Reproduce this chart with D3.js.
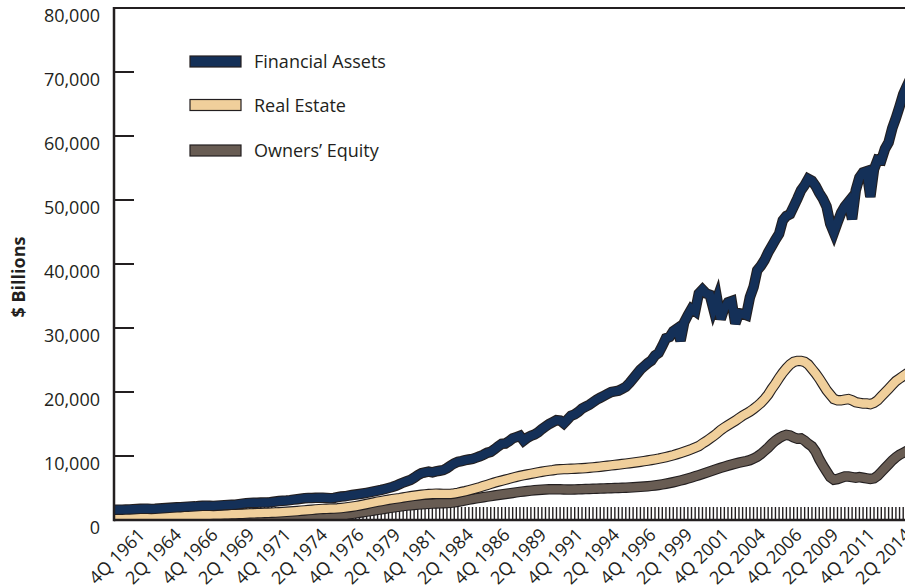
<!DOCTYPE html>
<html>
<head>
<meta charset="utf-8">
<script src="https://cdn.jsdelivr.net/npm/d3@7"></script>
<style>
  body { margin: 0; background: #fff; }
  text { font-family: "Open Sans", "DejaVu Sans", sans-serif; fill: #231f20; }
</style>
</head>
<body>
<div id="chart"></div>
<script>
// quarterly categories, 4Q 1959 .. 2Q 2014
var quarters = [];
for (var yr = 1959; yr <= 2014; yr++) {
  for (var q = 1; q <= 4; q++) {
    if (yr == 1959 && q < 4) continue;
    if (yr == 2014 && q > 2) continue;
    quarters.push(q + "Q " + yr);
  }
}

var xTickLabels = ["4Q 1961","2Q 1964","4Q 1966","2Q 1969","4Q 1971","2Q 1974","4Q 1976",
  "2Q 1979","4Q 1981","2Q 1984","4Q 1986","2Q 1989","4Q 1991","2Q 1994","4Q 1996",
  "2Q 1999","4Q 2001","2Q 2004","4Q 2006","2Q 2009","4Q 2011","2Q 2014"];

var yTicks = [0, 10000, 20000, 30000, 40000, 50000, 60000, 70000, 80000];

// $ billions, one value per quarter
var financialAssets = [
  1600,
  1610, 1620, 1630, 1650,   1680, 1710, 1740, 1770,   1760, 1730, 1750, 1790,   // 60-62
  1830, 1870, 1900, 1940,   1980, 2010, 2050, 2080,   2110, 2130, 2170, 2210,   // 63-65
  2230, 2220, 2200, 2240,   2280, 2320, 2350, 2370,   2400, 2470, 2540, 2620,   // 66-68
  2660, 2700, 2690, 2720,   2740, 2720, 2810, 2880,   2960, 3010, 3040, 3100,   // 69-71
  3180, 3250, 3320, 3400,   3450, 3430, 3460, 3480,   3480, 3450, 3400, 3450,   // 72-74
  3560, 3660, 3700, 3800,   3900, 3980, 4060, 4150,   4250, 4360, 4470, 4580,   // 75-77
  4700, 4850, 5000, 5150,   5350, 5600, 5850, 6050,   6250, 6600, 7000, 7300,   // 78-80
  7450, 7550, 7450, 7600,   7700, 7800, 8100, 8500,   8850, 9100, 9200, 9350,   // 81-83
  9450, 9550, 9750, 9950,   10200, 10500, 10650, 11050,   11500, 11900, 11950, 12300, // 84-86
  12750, 12950, 13150, 12400,   12850, 13150, 13350, 13700,   14200, 14600, 15000, 15300, // 87-89
  15600, 15550, 15100, 15700,   16300, 16500, 16900, 17400,   17700, 18000, 18400, 18800, // 90-92
  19100, 19400, 19700, 20000,   20100, 20200, 20500, 20800,   21400, 22100, 22800, 23500, // 93-95
  24000, 24500, 24900, 25700,   26100, 27200, 28400, 28600,   29500, 29900, 28000, 30900, // 96-98
  32000, 33000, 32600, 35400,   36000, 35400, 35200, 33000,   34600, 31400, 33100, 34000, // 99-01
  34200, 30700, 32300, 32200,   32000, 34800, 36400, 39000,   39700, 40600, 41800, 42800, // 02-04
  43800, 44700, 46800, 47500,   47800, 49000, 50200, 51500,   52300, 53300, 53000, 52200, // 05-07
  51100, 50200, 49000, 46300,   44900, 46500, 48000, 49000,   49700, 47000, 51500, 53500, // 08-10
  54300, 54500, 50500, 54800,   56300, 56200, 58000, 59000,   61200, 62800, 64600, 66500, // 11-13
  67800, 69000
];

var realEstate = [
  560,
  570, 580, 590, 600,   610, 620, 630, 640,   650, 660, 670, 680,
  690, 700, 710, 720,   730, 740, 750, 760,   770, 780, 790, 800,
  810, 820, 830, 840,   850, 870, 890, 910,   930, 950, 970, 1000,
  1020, 1040, 1060, 1080,   1100, 1120, 1140, 1170,   1200, 1240, 1280, 1320,
  1360, 1400, 1450, 1500,   1550, 1600, 1650, 1700,   1730, 1750, 1770, 1790,
  1820, 1870, 1930, 2000,   2080, 2170, 2270, 2380,   2500, 2620, 2740, 2860,
  2960, 3060, 3160, 3260,   3340, 3420, 3520, 3620,   3700, 3780, 3860, 3940,
  4000, 4050, 4080, 4100,   4090, 4080, 4070, 4080,   4150, 4250, 4380, 4500,
  4650, 4800, 4960, 5120,   5300, 5480, 5660, 5840,   6000, 6150, 6300, 6450,
  6600, 6750, 6880, 7000,   7110, 7220, 7330, 7440,   7540, 7630, 7710, 7780,
  7880, 7920, 7950, 7970,   7990, 8020, 8050, 8080,   8120, 8170, 8220, 8270,
  8330, 8400, 8470, 8540,   8600, 8670, 8740, 8810,   8880, 8950, 9030, 9110,
  9200, 9290, 9380, 9480,   9580, 9700, 9830, 9970,   10120, 10290, 10470, 10660,
  10860, 11070, 11300, 11540,   11950, 12300, 12700, 13100,   13550, 14050, 14450, 14800,
  15150, 15500, 15900, 16300,   16600, 16950, 17350, 17800,   18300, 18900, 19600, 20500,
  21300, 22200, 23000, 23700,   24300, 24700, 24850, 24850,   24700, 24300, 23600, 22900,
  22100, 21200, 20300, 19600,   18900, 18700, 18700, 18800,   18900, 18700, 18400, 18300,
  18200, 18200, 18100, 18300,   18700, 19300, 19900, 20500,   21100, 21700, 22100, 22500,
  22900, 23200
];

var ownersEquity = [
  280,
  285, 290, 295, 300,   305, 310, 315, 320,   325, 330, 335, 340,
  345, 350, 355, 360,   365, 370, 375, 380,   385, 390, 395, 400,
  405, 410, 415, 420,   425, 430, 435, 440,   445, 450, 455, 460,
  465, 470, 475, 480,   485, 490, 495, 500,   505, 515, 525, 535,
  545, 555, 565, 575,   585, 595, 605, 615,   625, 635, 645, 660,
  680, 720, 780, 860,   950, 1040, 1130, 1220,   1310, 1400, 1490, 1580,
  1670, 1760, 1850, 1940,   2020, 2100, 2170, 2240,   2300, 2350, 2400, 2450,
  2490, 2530, 2560, 2590,   2610, 2630, 2650, 2680,   2750, 2850, 2960, 3080,
  3180, 3280, 3380, 3470,   3560, 3650, 3740, 3830,   3910, 3990, 4070, 4150,
  4230, 4310, 4390, 4460,   4530, 4590, 4650, 4700,   4740, 4770, 4790, 4800,
  4800, 4790, 4770, 4760,   4760, 4770, 4790, 4810,   4830, 4850, 4870, 4890,
  4910, 4930, 4950, 4970,   4990, 5010, 5030, 5050,   5080, 5110, 5140, 5180,
  5220, 5270, 5330, 5400,   5480, 5570, 5670, 5780,   5900, 6030, 6170, 6320,
  6480, 6650, 6830, 7010,   7200, 7390, 7580, 7770,   7960, 8150, 8330, 8500,
  8660, 8810, 8950, 9080,   9200, 9350, 9600, 9900,   10300, 10800, 11300, 11900,
  12400, 12800, 13100, 13300,   13200, 12900, 12700, 12750,   12400, 11900, 11500, 10700,
  9500, 8500, 7600, 6700,   6300, 6400, 6600, 6800,   6800, 6700, 6600, 6700,
  6600, 6500, 6400, 6500,   6900, 7500, 8100, 8700,   9300, 9800, 10200, 10500,
  10800, 11100
];

var seriesNames = ["Financial Assets", "Real Estate", "Owners\u2019 Equity"];
var seriesColors = ["#143058", "#f0cf9b", "#685c53"];

var width = 905, height = 588,
    plotLeft = 114, plotTop = 8, plotBottom = 520, plotRight = 905;
var ink = "#231f20";

var svg = d3.select("#chart").append("svg")
    .attr("width", width)
    .attr("height", height);

svg.append("rect").attr("width", width).attr("height", height).attr("fill", "white");

var x = d3.scalePoint()
    .domain(quarters)
    .range([114.8, 114.8 + (quarters.length - 1) * 3.65]);

var y = d3.scaleLinear()
    .domain([0, 80000])
    .range([plotBottom, plotTop]);

svg.append("clipPath").attr("id", "plot")
  .append("rect")
    .attr("x", plotLeft).attr("y", plotTop)
    .attr("width", plotRight - plotLeft + 20).attr("height", plotBottom - plotTop);

// quarter tick marks (inside, upward)
svg.append("g").selectAll("line")
  .data(quarters)
  .enter().append("line")
    .attr("x1", function(d){ return x(d); })
    .attr("x2", function(d){ return x(d); })
    .attr("y1", plotBottom)
    .attr("y2", plotBottom - 13)
    .attr("stroke", ink)
    .attr("stroke-width", 1.4);

// lines: owners equity underneath, financial assets on top
var lines = svg.append("g").attr("clip-path", "url(#plot)");
var line = d3.line()
    .x(function(d, i){ return x(quarters[i]); })
    .y(function(d){ return y(d); });

[ownersEquity, realEstate, financialAssets].forEach(function(vals, j){
  var c = seriesColors[2 - j];
  lines.append("path")
    .attr("d", line(vals))
    .attr("fill", "none")
    .attr("stroke", ink)
    .attr("stroke-width", 10.5)
    .attr("stroke-linejoin", "miter");
  lines.append("path")
    .attr("d", line(vals))
    .attr("fill", "none")
    .attr("stroke", c)
    .attr("stroke-width", 8.3)
    .attr("stroke-linejoin", "miter");
});

// frame
svg.append("line").attr("x1", plotLeft).attr("x2", plotLeft).attr("y1", plotTop - 1).attr("y2", plotBottom + 1.2)
  .attr("stroke", ink).attr("stroke-width", 2.5);
svg.append("line").attr("x1", plotLeft).attr("x2", plotRight).attr("y1", plotTop).attr("y2", plotTop)
  .attr("stroke", ink).attr("stroke-width", 2);
svg.append("line").attr("x1", plotLeft).attr("x2", plotRight).attr("y1", plotBottom).attr("y2", plotBottom)
  .attr("stroke", ink).attr("stroke-width", 2.5);

// y ticks and labels
var yAxis = svg.append("g");
yAxis.selectAll("line")
  .data(yTicks.slice(1, -1))
  .enter().append("line")
    .attr("x1", plotLeft).attr("x2", plotLeft + 20)
    .attr("y1", function(d){ return y(d); })
    .attr("y2", function(d){ return y(d); })
    .attr("stroke", ink).attr("stroke-width", 2);
yAxis.selectAll("text")
  .data(yTicks)
  .enter().append("text")
    .attr("x", 100)
    .attr("y", function(d){ return y(d) + 8; })
    .attr("dy", "0.35em")
    .attr("text-anchor", "end")
    .attr("font-size", 18)
    .text(function(d){ return d3.format(",")(d); });

svg.append("text")
    .attr("transform", "translate(25,277) rotate(-90)")
    .attr("text-anchor", "middle")
    .attr("font-size", 18)
    .attr("font-weight", "bold")
    .text("$ Billions");

// x labels
svg.append("g").selectAll("text")
  .data(xTickLabels)
  .enter().append("text")
    .attr("transform", function(d){ return "translate(" + (x(d) + 2) + ",536) rotate(-45)"; })
    .attr("text-anchor", "end")
    .attr("font-size", 18)
    .text(function(d){ return d; });

// legend
var legend = svg.append("g");
var legendY = [61.5, 105, 150.5];
seriesNames.forEach(function(name, i){
  legend.append("rect")
    .attr("x", 190).attr("y", legendY[i] - 5.5)
    .attr("width", 51).attr("height", 11)
    .attr("fill", seriesColors[i])
    .attr("stroke", ink).attr("stroke-width", 1.2);
  legend.append("text")
    .attr("x", 254).attr("y", legendY[i] + 6.5)
    .attr("font-size", 18)
    .text(name);
});
</script>
</body>
</html>
